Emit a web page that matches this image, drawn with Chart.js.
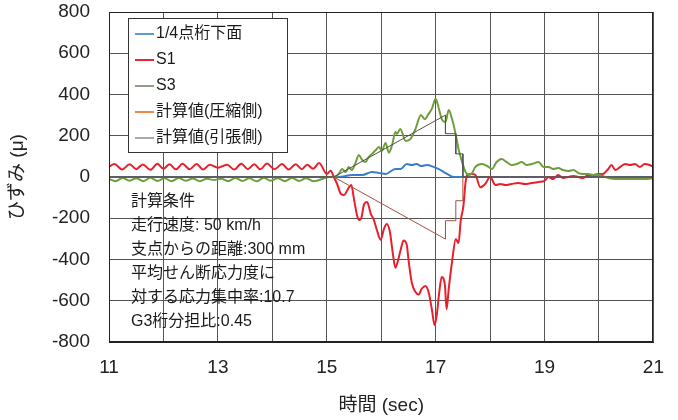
<!DOCTYPE html>
<html>
<head>
<meta charset="utf-8">
<script src="https://cdn.jsdelivr.net/npm/chart.js@4.4.1/dist/chart.umd.min.js"></script>
<style>
  html, body { margin: 0; padding: 0; background: #fff; }
  #wrap { width: 678px; height: 420px; }
</style>
</head>
<body>
<div id="wrap"><canvas id="c" width="678" height="420"></canvas></div>
<script>
// Strain records of the girder around a passing truck, time in seconds, strain in μ.
const FONT = "'Liberation Sans', Arial, 'Noto Sans CJK JP', sans-serif";

const seriesNames = ['1/4点桁下面', 'S1', 'S3', '計算値(圧縮側)', '計算値(引張側)'];
const xTickLabels = [11, 13, 15, 17, 19, 21];
const yTickLabels = [-800, -600, -400, -200, 0, 200, 400, 600, 800];

// [time, strain] pairs
const quarterBottom = [
  [11.00, 0], [15.15, 0], [15.30, 3], [15.46, 10], [15.65, 10], [15.83, 24], [15.95, 20],
  [16.08, 15], [16.26, 39], [16.36, 39], [16.47, 63], [16.56, 58], [16.65, 63], [16.74, 53],
  [16.84, 58], [16.96, 49], [17.05, 39], [17.15, 24], [17.24, 10], [17.33, 0], [21.00, 0]
];

const s1 = [
  [11.00, 50], [11.10, 63], [11.24, 36], [11.38, 62], [11.50, 38], [11.62, 61], [11.76, 35],
  [11.89, 64], [12.00, 40], [12.11, 62], [12.23, 37], [12.35, 64], [12.48, 38], [12.61, 63],
  [12.73, 36], [12.85, 60], [13.00, 45], [13.08, 52], [13.17, 60], [13.30, 36], [13.43, 64],
  [13.55, 38], [13.67, 62], [13.78, 37], [13.90, 65], [14.04, 38], [14.18, 63], [14.30, 36],
  [14.43, 62], [14.54, 38], [14.64, 60], [14.75, 40], [14.86, 68], [15.00, 15], [15.07, 30],
  [15.13, 0], [15.19, -34], [15.26, -82], [15.32, -87], [15.38, -63], [15.45, -39], [15.50, -107],
  [15.56, -190], [15.60, -209], [15.64, -194], [15.68, -136], [15.74, -121], [15.81, -180],
  [15.86, -204], [15.92, -257], [15.99, -304], [16.05, -252], [16.10, -228], [16.16, -267],
  [16.21, -364], [16.26, -440], [16.30, -413], [16.36, -350], [16.41, -308], [16.47, -330],
  [16.50, -398], [16.56, -510], [16.63, -558], [16.69, -570], [16.74, -543], [16.81, -528],
  [16.87, -558], [16.93, -641], [16.98, -718], [17.02, -670], [17.06, -573], [17.11, -485],
  [17.17, -524], [17.20, -641], [17.24, -543], [17.30, -413], [17.37, -301], [17.42, -320],
  [17.46, -212], [17.51, -140], [17.55, -24], [17.58, 10], [17.66, 15], [17.73, 10],
  [17.82, -50], [17.91, -34], [18.00, 0], [18.10, -39], [18.19, -34], [18.28, -39],
  [18.39, -34], [18.52, -29], [18.64, -34], [18.76, -29], [18.89, -24], [19.00, -19],
  [19.07, 0], [19.16, -10], [19.25, 10], [19.34, -5], [19.44, 0], [19.53, 5], [19.62, 0],
  [19.71, -5], [19.80, 10], [19.90, 10], [19.98, 15], [20.07, 15], [20.17, 39], [20.23, 58],
  [20.30, 34], [20.39, 49], [20.48, 63], [20.57, 58], [20.66, 63], [20.75, 49], [20.84, 63],
  [20.93, 58], [21.00, 49]
];

const s3 = [
  [11.00, -10], [11.12, -20], [11.25, -5], [11.38, -18], [11.50, -6], [11.63, -20], [11.76, -4],
  [11.89, -19], [12.02, -6], [12.15, -21], [12.28, -5], [12.41, -18], [12.54, -7], [12.67, -20],
  [12.80, -8], [12.93, -15], [13.06, -8], [13.19, -20], [13.32, -5], [13.45, -19], [13.58, -6],
  [13.71, -21], [13.84, -4], [13.97, -18], [14.10, -6], [14.23, -20], [14.36, -5], [14.49, -19],
  [14.62, -6], [14.75, -20], [14.86, -15], [15.04, 0], [15.13, 0], [15.22, 15], [15.28, 39],
  [15.35, 24], [15.40, 49], [15.46, 34], [15.52, 63], [15.59, 107], [15.64, 87], [15.71, 73],
  [15.77, 97], [15.83, 112], [15.90, 131], [15.96, 146], [16.01, 126], [16.08, 165],
  [16.14, 118], [16.20, 155], [16.26, 218], [16.29, 209], [16.35, 233], [16.45, 175],
  [16.54, 185], [16.63, 233], [16.73, 301], [16.80, 280], [16.87, 306], [16.93, 330],
  [17.00, 379], [17.06, 330], [17.11, 282], [17.18, 267], [17.24, 325], [17.30, 282],
  [17.37, 204], [17.42, 136], [17.47, 87], [17.55, 24], [17.61, 10], [17.66, 15], [17.73, 49],
  [17.85, 63], [17.97, 49], [18.03, 39], [18.12, 73], [18.21, 87], [18.30, 73], [18.40, 58],
  [18.49, 63], [18.58, 73], [18.67, 58], [18.77, 63], [18.89, 73], [18.98, 49], [19.07, 49],
  [19.16, 39], [19.25, 44], [19.34, 34], [19.44, 29], [19.53, 34], [19.62, 19], [19.71, 15],
  [19.80, 15], [19.90, 10], [20.00, 10], [20.07, 5], [20.17, -5], [20.30, -10], [20.50, -10],
  [20.70, -10], [20.85, -10], [21.00, -5]
];

const calcCompression = [
  [11.00, 0], [15.13, 0], [17.18, -301], [17.18, -212], [17.37, -212], [17.37, -115],
  [17.50, -115], [17.50, 0], [21.00, 0]
];

const calcTension = [
  [11.00, 0], [15.13, 0], [17.18, 300], [17.18, 210], [17.37, 210], [17.37, 112],
  [17.50, 112], [17.50, 0], [21.00, 0]
];

const noteLines = [
  '計算条件',
  '走行速度: 50 km/h',
  '支点からの距離:300 mm',
  '平均せん断応力度に',
  '対する応力集中率:10.7',
  'G3桁分担比:0.45'
];

const lineColors = ['#3b7dc4', '#e8202c', '#6e9e3c', '#a8503c', '#505050'];
const legendColors = ['#5b9bd5', '#e8262e', '#8fa088', '#f08a4b', '#a9a9a9'];

const toPoints = arr => arr.map(([x, y]) => ({ x, y }));

// Legend box and calculation notes drawn inside the plot area
const overlay = {
  id: 'overlay',
  afterDatasetsDraw(chart) {
    const { ctx, chartArea: ca } = chart;
    ctx.save();
    // legend
    const bx = ca.left + 19, by = ca.top + 6, bw = 159, bh = 134;
    ctx.fillStyle = '#fff';
    ctx.fillRect(bx, by, bw, bh);
    ctx.strokeStyle = '#333';
    ctx.lineWidth = 1;
    ctx.strokeRect(bx + 0.5, by + 0.5, bw, bh);
    ctx.font = "16px " + FONT;
    ctx.textBaseline = 'middle';
    ctx.textAlign = 'left';
    seriesNames.forEach((name, i) => {
      const y = by + 16 + i * 26;
      ctx.strokeStyle = legendColors[i];
      ctx.lineWidth = 2;
      ctx.beginPath();
      ctx.moveTo(bx + 7, y);
      ctx.lineTo(bx + 26, y);
      ctx.stroke();
      ctx.fillStyle = '#1a1a1a';
      ctx.fillText(name, bx + 28, y);
    });
    // notes
    ctx.font = "16px " + FONT;
    ctx.fillStyle = '#1a1a1a';
    noteLines.forEach((t, i) => {
      ctx.fillText(t, ca.left + 22, ca.top + 190 + i * 24);
    });
    ctx.restore();
  },
  afterDraw(chart) {
    // full frame around the plot area
    const { ctx, chartArea: ca } = chart;
    ctx.save();
    ctx.strokeStyle = '#222';
    ctx.lineWidth = 1;
    ctx.strokeRect(Math.round(ca.left) + 0.5, Math.round(ca.top) + 0.5,
      Math.round(ca.right - ca.left) - 1, Math.round(ca.bottom - ca.top) - 1);
    ctx.restore();
  }
};

const datasets = [quarterBottom, s1, s3, calcCompression, calcTension].map((arr, i) => ({
  label: seriesNames[i],
  data: toPoints(arr),
  borderColor: lineColors[i],
  backgroundColor: lineColors[i],
  borderWidth: i < 3 ? 2 : 1,
  pointRadius: 0,
  fill: false,
  cubicInterpolationMode: i < 3 ? 'monotone' : 'default',
  tension: 0,
  order: 5 - i
}));

new Chart(document.getElementById('c'), {
  type: 'line',
  data: { datasets },
  options: {
    responsive: false,
    animation: false,
    devicePixelRatio: 1,
    layout: { padding: { left: 0, right: 23, top: 12, bottom: 0 } },
    plugins: { legend: { display: false }, tooltip: { enabled: false } },
    scales: {
      x: {
        type: 'linear',
        min: 11, max: 21,
        ticks: {
          stepSize: 1,
          autoSkip: false,
          maxRotation: 0,
          padding: 14,
          color: '#222',
          font: { family: FONT, size: 19 },
          callback: v => xTickLabels.includes(v) ? String(v) : ''
        },
        grid: { color: '#555', lineWidth: 1, drawTicks: false },
        border: { display: true, color: '#222', width: 1 },
        title: {
          display: true, text: '時間 (sec)', color: '#222',
          font: { family: FONT, size: 19 }, padding: { top: 0, bottom: 3 }
        },
        afterFit: s => { s.height = 78; }
      },
      y: {
        min: -800, max: 800,
        ticks: {
          stepSize: 200,
          padding: 0,
          color: '#222',
          font: { family: FONT, size: 19 },
          callback: v => yTickLabels.includes(v) ? String(v) : ''
        },
        grid: { color: '#555', lineWidth: 1, drawTicks: true, tickLength: 19, tickColor: 'rgba(0,0,0,0)' },
        border: { display: true, color: '#222', width: 1 },
        title: {
          display: true, text: 'ひずみ (μ)', color: '#222',
          font: { family: FONT, size: 19 }, padding: { top: 6, bottom: 0 }
        },
        afterFit: s => { s.width = 109; }
      }
    }
  },
  plugins: [overlay]
});
</script>
</body>
</html>
